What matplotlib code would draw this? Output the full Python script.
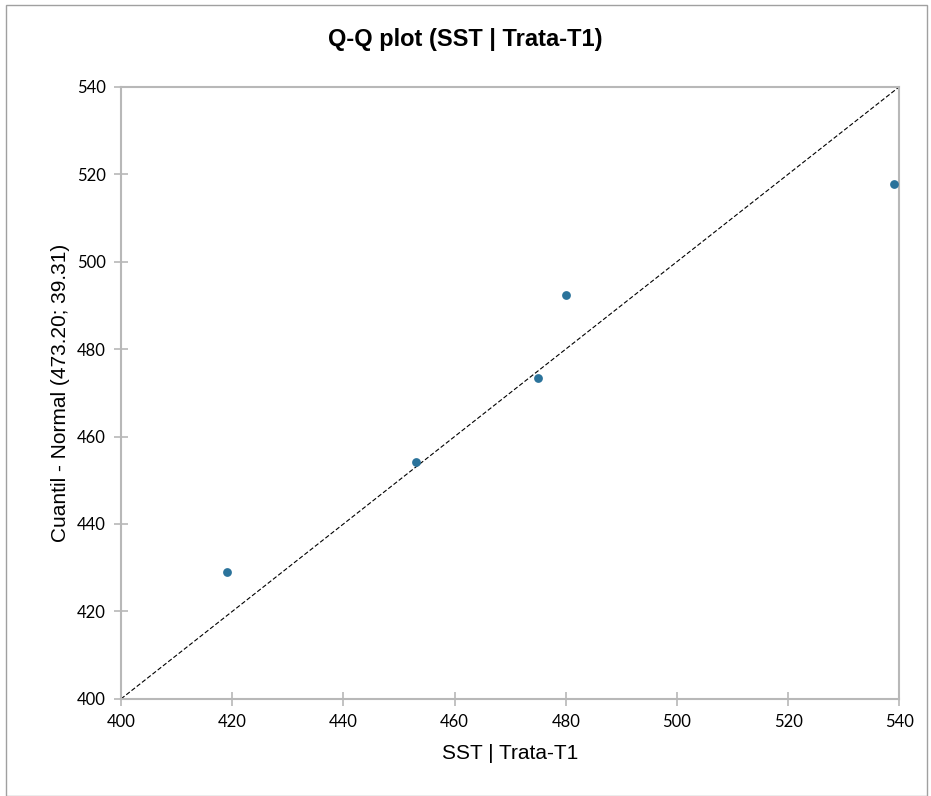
import matplotlib.pyplot as plt
from matplotlib.patches import Rectangle

# data
sample = [419, 453, 475, 480, 539]
normal_q = [429.0, 454.1, 473.3, 492.4, 517.7]
ref_line = [400, 540]
ticks = [400, 420, 440, 460, 480, 500, 520, 540]

fig = plt.figure(figsize=(9.31, 7.96), dpi=100)
ax = fig.add_axes([0.130, 0.122, 0.836, 0.769])

ax.plot(ref_line, ref_line, color='black', linestyle='--', linewidth=0.8, dashes=(4, 2))
ax.scatter(sample, normal_q, s=40, color='#2B739B', zorder=3, linewidths=0)

ax.set_xlim(400, 540)
ax.set_ylim(400, 540)
ax.set_xticks(ticks)
ax.set_yticks(ticks)
for lab in ax.get_xticklabels() + ax.get_yticklabels():
    lab.set_fontfamily('Lato')
    lab.set_fontsize(12)

for s in ax.spines.values():
    s.set_color('#b8b8b8')
    s.set_linewidth(1.5)
ax.tick_params(axis='both', direction='inout', length=10, width=1.2, color='#b8b8b8', pad=6)

ax.set_xlabel('SST | Trata-T1', fontsize=15, family='Liberation Sans', labelpad=10)
ax.set_ylabel('Cuantil - Normal (473.20; 39.31)', fontsize=15, family='Liberation Sans', labelpad=5)
fig.text(0.5, 0.950, 'Q-Q plot (SST | Trata-T1)', ha='center', va='center',
         fontsize=17, fontweight='bold', family='Liberation Sans')

# outer chart frame
fig.patches.append(Rectangle((0.006, 0.0), 0.99, 0.994, transform=fig.transFigure,
                             fill=False, edgecolor='#a0a0a0', linewidth=1))

fig.savefig('out.png', dpi=100)
